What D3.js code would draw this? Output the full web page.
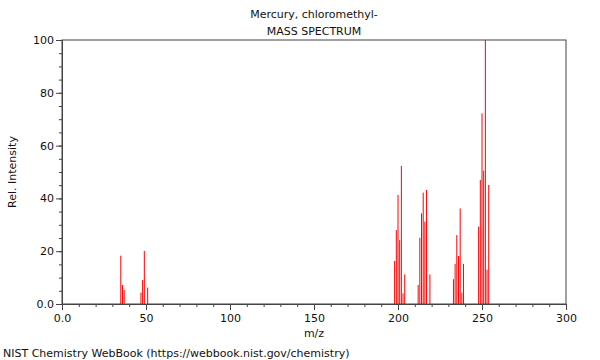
<!DOCTYPE html>
<html>
<head>
<meta charset="utf-8">
<script src="https://cdn.jsdelivr.net/npm/d3@7"></script>
<style>
  body { margin: 0; background: #fff; }
  text { font-family: "DejaVu Sans", sans-serif; font-size: 11px; fill: #111; }
</style>
</head>
<body>
<div id="chart"></div>
<script>
// peak m/z values and relative intensities
var mzValues = [35, 36, 37, 47, 48, 49, 51,
                198, 199, 200, 201, 202, 203, 204,
                212, 213, 214, 215, 216, 217, 219,
                233, 234, 235, 236, 237, 238, 239,
                248, 249, 250, 251, 252, 253, 254];
var intensities = [18.3, 7.2, 5.3, 4.3, 9.1, 20.1, 6.2,
                   16.3, 28.0, 41.3, 24.2, 52.3, 4.0, 11.2,
                   7.2, 25.1, 34.3, 42.2, 31.2, 43.2, 11.2,
                   9.4, 15.2, 26.1, 18.2, 36.2, 4.3, 15.2,
                   29.3, 47.0, 72.2, 50.5, 100, 13.0, 45.1];
var xTicks = [0, 50, 100, 150, 200, 250, 300];
var yTicks = [0, 20, 40, 60, 80, 100];

var width = 600, height = 360;
var margin = {left: 62, right: 34, top: 40, bottom: 56};

var svg = d3.select("#chart")
            .append("svg")
            .attr("width", width)
            .attr("height", height);

var xScale = d3.scaleLinear()
               .domain([0, 300])
               .range([margin.left, width - margin.right]);

var yScale = d3.scaleLinear()
               .domain([0, 100])
               .range([height - margin.bottom, margin.top]);

// peaks
svg.selectAll(".peak")
   .data(mzValues)
   .enter()
   .append("line")
   .attr("class", "peak")
   .attr("x1", function(d) { return xScale(d); })
   .attr("x2", function(d) { return xScale(d); })
   .attr("y1", yScale(0))
   .attr("y2", function(d, i) { return yScale(intensities[i]); })
   .style("stroke", "#ff0000")
   .style("stroke-width", 1);

// frame
svg.append("rect")
   .attr("x", margin.left)
   .attr("y", margin.top)
   .attr("width", width - margin.left - margin.right)
   .attr("height", height - margin.top - margin.bottom)
   .style("fill", "none")
   .style("stroke", "#444")
   .style("stroke-width", 1);

// minor ticks
svg.append("g")
   .attr("class", "x-minor")
   .attr("transform", "translate(0," + yScale(0) + ")")
   .call(d3.axisBottom(xScale).tickValues(d3.range(0, 301, 10)).tickSize(3).tickFormat(""));

svg.append("g")
   .attr("class", "y-minor")
   .attr("transform", "translate(" + margin.left + ",0)")
   .call(d3.axisLeft(yScale).tickValues(d3.range(0, 101, 5)).tickSize(3).tickFormat(""));

// major axes
svg.append("g")
   .attr("class", "x-axis")
   .attr("transform", "translate(0," + yScale(0) + ")")
   .call(d3.axisBottom(xScale).tickValues(xTicks).tickSize(6).tickPadding(4)
     .tickFormat(function(d) { return d === 0 ? "0.0" : d; }));

svg.append("g")
   .attr("class", "y-axis")
   .attr("transform", "translate(" + margin.left + ",0)")
   .call(d3.axisLeft(yScale).tickValues(yTicks).tickSize(6).tickPadding(2)
     .tickFormat(function(d) { return d === 0 ? "0.0" : d; }));

svg.selectAll(".domain").style("stroke", "#444");
svg.selectAll(".tick line").style("stroke", "#444");
svg.selectAll(".tick text")
   .style("font-family", "'DejaVu Sans', sans-serif")
   .style("font-size", "11px")
   .style("fill", "#111");

// titles
svg.append("text")
   .attr("x", xScale(150))
   .attr("y", 18)
   .style("text-anchor", "middle")
   .text("Mercury, chloromethyl-");

svg.append("text")
   .attr("x", xScale(150))
   .attr("y", 35)
   .style("text-anchor", "middle")
   .text("MASS SPECTRUM");

svg.append("text")
   .attr("x", xScale(150))
   .attr("y", 337)
   .style("text-anchor", "middle")
   .text("m/z");

svg.append("text")
   .attr("transform", "translate(16," + yScale(50) + ") rotate(-90)")
   .style("text-anchor", "middle")
   .text("Rel. Intensity");

svg.append("text")
   .attr("x", 3)
   .attr("y", 357)
   .text("NIST Chemistry WebBook (https://webbook.nist.gov/chemistry)");
</script>
</body>
</html>
